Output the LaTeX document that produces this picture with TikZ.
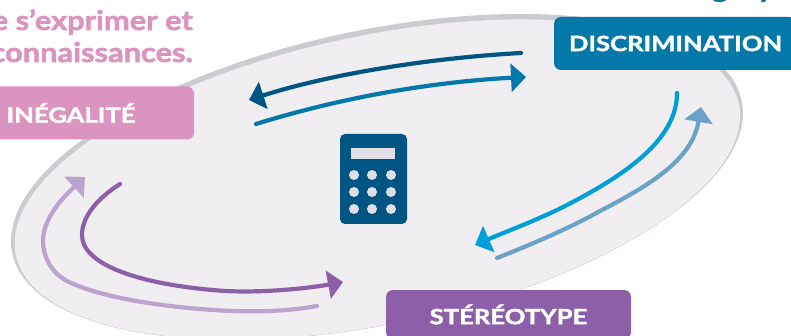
\documentclass[tikz,border=0pt]{standalone}
\usepackage{fontspec}
\setmainfont{Lato}
\newfontfamily\boxfont[FakeStretch=1.22,FakeBold=1.7]{Lato Bold}
\newfontfamily\headfont[FakeStretch=1.14,FakeBold=2]{Lato Bold}
\usetikzlibrary{arrows.meta}
\definecolor{pinkc}{HTML}{DB93BF}
\definecolor{discc}{HTML}{0478A9}
\definecolor{purpc}{HTML}{8C60A8}
\definecolor{lilac}{HTML}{BBA3CF}
\definecolor{navy}{HTML}{005583}
\definecolor{skyc}{HTML}{009FD6}
\definecolor{steel}{HTML}{6BA3C8}
\definecolor{shell}{HTML}{F0EEF0}
\definecolor{rim}{HTML}{CBCBD0}
\definecolor{keyc}{HTML}{E0DEE6}
\tikzset{
 label box/.style={rounded corners=7pt,inner sep=0pt,text=white,font=\boxfont\fontsize{21pt}{23pt}\selectfont,anchor=center,minimum height=53pt},
 flow/.style={line width=4.2pt,line cap=round,-{Triangle[length=15pt,width=28pt]}},
 headline/.style={text=pinkc,font=\headfont\fontsize{27pt}{29pt}\selectfont,inner sep=0pt,anchor=base east},
 topline/.style={text=discc,font=\headfont\fontsize{27pt}{29pt}\selectfont,inner sep=0pt,anchor=base},
}
\begin{document}
\begin{tikzpicture}[x=1pt,y=-1pt]
\useasboundingbox (0,0) rectangle (791,336);
\begin{scope}
\clip (0,0) rectangle (791,336);
% ellipse rim and fill
\fill[rim] (377,177) circle [x radius=372.6pt,y radius=147.2pt,rotate=11.8];
\fill[shell] (377.3,179.5) circle [x radius=369.3pt,y radius=144.2pt,rotate=11.8];
% clipped headlines
\node[headline] (h1) at (193,30) {de s’exprimer et};
\node[headline] (h2) at (193,62) {connaissances.};
\node[topline] (h3) at (720,-3) {g};
\node[topline] (h4) at (766,-3) {y};
% boxes
\node[label box,fill=pinkc,minimum width=246pt] (ineg) at (71,113) {INÉGALITÉ};
\node[label box,fill=discc,minimum width=243pt] (disc) at (675.5,43.5) {DISCRIMINATION};
\node[label box,fill=purpc,minimum width=245pt,minimum height=49pt] (ster) at (508.5,314.5) {STÉRÉOTYPE};
% calculator
\fill[navy,rounded corners=5pt] (340,134) rectangle (407,224);
\fill[keyc] (351,148) rectangle (395,159);
\foreach \x in {354,372,391}\foreach \y in {175,192,209}{\fill[keyc] (\x,\y) circle (5pt);}
% arrows
\coordinate (a1s) at (521,53); \coordinate (a1e) at (249,100);
\draw[flow,navy] (a1s) .. controls (430,58) and (330,74) .. (a1e);
\coordinate (a2s) at (256,124); \coordinate (a2e) at (526,77);
\draw[flow,discc] (a2s) .. controls (340,98) and (430,82) .. (a2e);
\coordinate (b1s) at (677,93); \coordinate (b1m) at (567,205); \coordinate (b1e) at (475,245);
\draw[flow,skyc] (b1s) .. controls (677,140) and (625,175) .. (b1m) .. controls (540,219) and (505,232) .. (b1e);
\coordinate (b2s) at (497,258); \coordinate (b2m) at (600,211); \coordinate (b2e) at (701,107);
\draw[flow,steel] (b2s) .. controls (530,245) and (570,228) .. (b2m) .. controls (650,185) and (692,160) .. (b2e);
\coordinate (c1s) at (120,184); \coordinate (c1m) at (82,235); \coordinate (c1n) at (225,291); \coordinate (c1e) at (343,282);
\draw[flow,purpc] (c1s) .. controls (95,200) and (82,218) .. (c1m) .. controls (82,265) and (140,285) .. (c1n) .. controls (265,293) and (310,288) .. (c1e);
\coordinate (c2s) at (317,306); \coordinate (c2m) at (233,311); \coordinate (c2n) at (67,281); \coordinate (c2o) at (43,241); \coordinate (c2e) at (85,177);
\draw[flow,lilac] (c2s) .. controls (290,311) and (260,312) .. (c2m) .. controls (180,309) and (105,300) .. (c2n) .. controls (50,272) and (43,255) .. (c2o) .. controls (43,220) and (60,200) .. (c2e);
\end{scope}
\end{tikzpicture}
\end{document}
